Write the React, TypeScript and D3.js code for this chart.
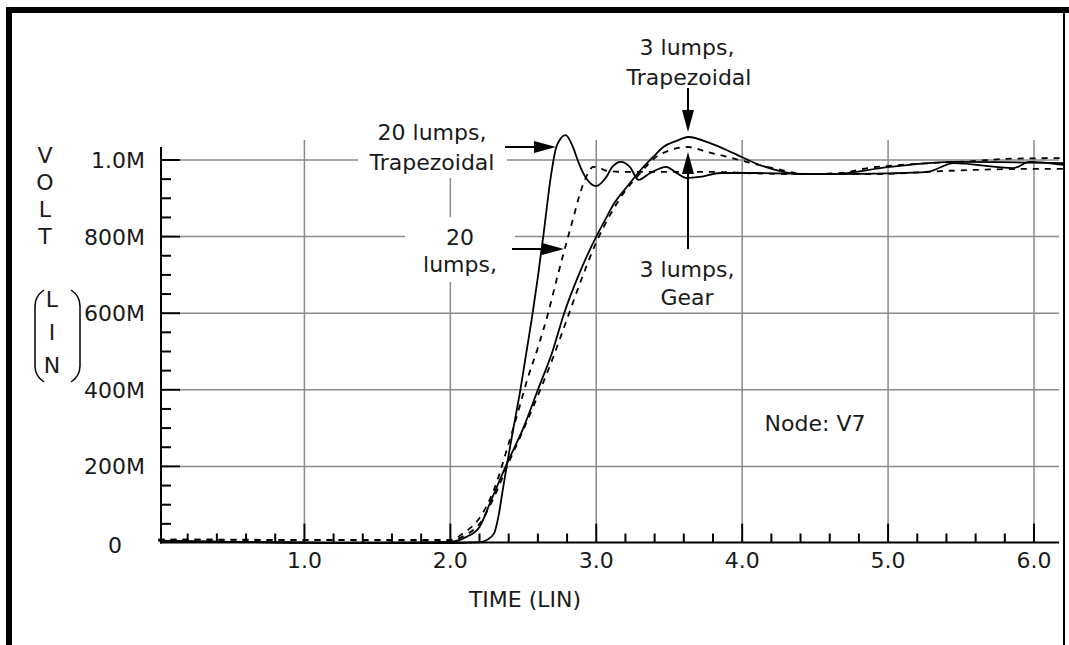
import React from 'react';
import * as d3 from 'd3';

// ---- data ----
const T_20_TRAP = [0, 0.5, 1.0, 1.5, 2.0, 2.2, 2.25, 2.3, 2.33, 2.36, 2.39, 2.43, 2.48, 2.52, 2.56, 2.6, 2.64, 2.69, 2.72, 2.76, 2.79, 2.84, 2.88, 2.93, 3.0, 3.07, 3.11, 3.17, 3.23, 3.29, 3.37, 3.48, 3.54, 3.62, 3.71, 3.85, 4.1, 4.6, 5.0, 5.27, 5.45, 5.86, 5.97, 6.2];
const V_20_TRAP = [0.006, 0.003, 0.001, 0.0, 0.0, 0.002, 0.008, 0.025, 0.07, 0.14, 0.209, 0.295, 0.40, 0.495, 0.59, 0.695, 0.81, 0.96, 1.025, 1.058, 1.065, 1.034, 0.992, 0.953, 0.932, 0.956, 0.982, 0.995, 0.982, 0.948, 0.966, 0.982, 0.969, 0.953, 0.956, 0.966, 0.966, 0.963, 0.965, 0.969, 0.992, 0.979, 0.995, 0.987];

const T_20_GEAR = [0, 1.0, 2.0, 2.09, 2.19, 2.3, 2.4, 2.47, 2.53, 2.6, 2.67, 2.73, 2.8, 2.84, 2.89, 2.93, 2.98, 3.03, 3.07, 3.2, 3.77, 4.1, 4.4, 4.9, 5.13, 5.36, 5.58, 6.04, 6.2];
const V_20_GEAR = [0.009, 0.008, 0.008, 0.026, 0.06, 0.14, 0.26, 0.35, 0.43, 0.51, 0.6, 0.69, 0.79, 0.845, 0.914, 0.955, 0.982, 0.978, 0.972, 0.969, 0.969, 0.965, 0.963, 0.963, 0.966, 0.971, 0.974, 0.977, 0.977];

const T_3_TRAP = [0, 0.5, 1.0, 1.5, 2.0, 2.11, 2.2, 2.28, 2.39, 2.5, 2.6, 2.7, 2.78, 2.88, 3.0, 3.06, 3.12, 3.21, 3.3, 3.39, 3.46, 3.55, 3.63, 3.78, 3.94, 4.12, 4.28, 4.4, 4.62, 5.01, 5.47, 6.2];
const V_3_TRAP = [0.006, 0.003, 0.001, 0.0, 0.003, 0.016, 0.042, 0.112, 0.209, 0.30, 0.40, 0.50, 0.60, 0.70, 0.80, 0.843, 0.885, 0.93, 0.972, 1.008, 1.034, 1.05, 1.06, 1.044, 1.018, 0.987, 0.969, 0.963, 0.963, 0.982, 0.995, 0.992];

const T_3_GEAR = [0, 1.0, 2.0, 2.1, 2.2, 2.3, 2.4, 2.5, 2.6, 2.7, 2.8, 2.9, 3.0, 3.1, 3.2, 3.3, 3.4, 3.5, 3.63, 3.76, 3.9, 4.03, 4.21, 4.44, 4.67, 4.86, 5.08, 5.3, 5.58, 5.81, 6.18];
const V_3_GEAR = [0.009, 0.008, 0.006, 0.02, 0.05, 0.12, 0.21, 0.295, 0.385, 0.48, 0.585, 0.69, 0.785, 0.86, 0.92, 0.965, 1.005, 1.025, 1.034, 1.021, 1.008, 0.995, 0.979, 0.963, 0.966, 0.979, 0.987, 0.992, 0.997, 1.003, 1.005];

const Y_MAJOR = [0, 0.2, 0.4, 0.6, 0.8, 1.0];
const Y_LABELS = ['0', '200M', '400M', '600M', '800M', '1.0M'];
const X_MAJOR = [1, 2, 3, 4, 5, 6];
const X_LABELS = ['1.0', '2.0', '3.0', '4.0', '5.0', '6.0'];

const FONT = '"DejaVu Sans", sans-serif';
const FS = 22;
const TXT = '#1a1a1a';

export default function App() {
  const x = d3.scaleLinear().domain([0, 6]).range([158.5, 1034]);
  const y = d3.scaleLinear().domain([0, 1]).range([543, 160]);
  const axisLeft = 161;
  const axisBottom = 542.5;
  const xEnd = 1059;
  const gridTop = 140;

  const line = d3
    .line<[number, number]>()
    .x((d) => x(d[0]))
    .y((d) => y(d[1]))
    .curve(d3.curveMonotoneX);
  const zip = (t: number[], v: number[]) => t.map((ti, i) => [ti, v[i]] as [number, number]);

  const yMinor = d3.range(1, 20).map((i) => i * 0.05).filter((v) => Math.abs(v * 5 - Math.round(v * 5)) > 1e-6);
  const xMinor = d3.range(1, 31).map((i) => i * 0.2).filter((v) => Math.abs(v - Math.round(v)) > 1e-6);

  const textProps = { fontFamily: FONT, fontSize: FS, fill: TXT } as const;

  const hArrow = (x1: number, x2: number, yy: number) => (
    <g>
      <line x1={x1} x2={x2 - 18} y1={yy} y2={yy} stroke="#000" strokeWidth={2} />
      <path d={`M${x2},${yy} L${x2 - 22},${yy - 6} L${x2 - 22},${yy + 6} Z`} fill="#000" />
    </g>
  );
  const vArrow = (xx: number, y1: number, y2: number) => {
    const dir = y2 > y1 ? 1 : -1;
    return (
      <g>
        <line x1={xx} x2={xx} y1={y1} y2={y2 - dir * 18} stroke="#000" strokeWidth={2} />
        <path d={`M${xx},${y2} L${xx - 6},${y2 - dir * 22} L${xx + 6},${y2 - dir * 22} Z`} fill="#000" />
      </g>
    );
  };

  return (
    <svg width={1069} height={645} style={{ position: 'absolute', left: 0, top: 0, background: '#fff' }}>
      <rect x={0} y={0} width={1069} height={645} fill="#fff" />
      {/* frame */}
      <path d="M9,645 V10 H1069" fill="none" stroke="#000" strokeWidth={6} />
      <line x1={1064} x2={1064} y1={10} y2={645} stroke="#000" strokeWidth={2} />

      {/* grid */}
      {Y_MAJOR.filter((v) => v > 0).map((v) => (
        <line key={'gy' + v} x1={axisLeft + 19} x2={xEnd} y1={y(v)} y2={y(v)} stroke="#8a8a8a" strokeWidth={1.5} />
      ))}
      {X_MAJOR.map((t) => (
        <line key={'gx' + t} x1={x(t)} x2={x(t)} y1={gridTop} y2={axisBottom - 19} stroke="#8a8a8a" strokeWidth={1.5} />
      ))}

      {/* label backgrounds */}
      <rect x={358} y={118} width={149} height={60} fill="#fff" />
      <rect x={405} y={217} width={110} height={65} fill="#fff" />

      {/* axes */}
      <line x1={axisLeft} x2={axisLeft} y1={147} y2={axisBottom + 1} stroke="#000" strokeWidth={2} />
      <line x1={axisLeft - 1} x2={xEnd} y1={axisBottom} y2={axisBottom} stroke="#000" strokeWidth={2.2} />
      {Y_MAJOR.filter((v) => v > 0).map((v) => (
        <line key={'ty' + v} x1={axisLeft} x2={axisLeft + 19} y1={y(v)} y2={y(v)} stroke="#000" strokeWidth={2} />
      ))}
      {yMinor.map((v) => (
        <line key={'my' + v} x1={axisLeft} x2={axisLeft + 10} y1={y(v)} y2={y(v)} stroke="#000" strokeWidth={2} />
      ))}
      {X_MAJOR.map((t) => (
        <line key={'tx' + t} x1={x(t)} x2={x(t)} y1={axisBottom} y2={axisBottom - 19} stroke="#000" strokeWidth={2} />
      ))}
      {xMinor.map((t) => (
        <line key={'mx' + t} x1={x(t)} x2={x(t)} y1={axisBottom} y2={axisBottom - 9} stroke="#000" strokeWidth={2} />
      ))}

      {/* tick labels */}
      {Y_MAJOR.map((v, i) =>
        v === 0 ? (
          <text key={'ly' + v} x={115} y={553} textAnchor="middle" {...textProps}>
            {Y_LABELS[i]}
          </text>
        ) : (
          <text key={'ly' + v} x={145} y={y(v) + 8} textAnchor="end" {...textProps}>
            {Y_LABELS[i]}
          </text>
        )
      )}
      {X_MAJOR.map((t, i) => (
        <text key={'lx' + t} x={x(t)} y={568} textAnchor="middle" {...textProps}>
          {X_LABELS[i]}
        </text>
      ))}
      <text x={525} y={607} textAnchor="middle" {...textProps}>
        TIME (LIN)
      </text>

      {/* y axis title */}
      {['V', 'O', 'L', 'T'].map((c, i) => (
        <text key={'yt' + i} x={45} y={163 + i * 27} textAnchor="middle" {...textProps}>
          {c}
        </text>
      ))}
      {['L', 'I', 'N'].map((c, i) => (
        <text key={'yl' + i} x={52} y={307 + i * 33} textAnchor="middle" {...textProps}>
          {c}
        </text>
      ))}
      <path d="M44,290 Q35,296 35,306 V366 Q35,376 44,382" fill="none" stroke="#000" strokeWidth={1.5} />
      <path d="M71,290 Q80,296 80,306 V366 Q80,376 71,382" fill="none" stroke="#000" strokeWidth={1.5} />

      {/* curves */}
      <path d={line(zip(T_20_TRAP, V_20_TRAP)) || ''} fill="none" stroke="#000" strokeWidth={1.8} />
      <path d={line(zip(T_3_TRAP, V_3_TRAP)) || ''} fill="none" stroke="#000" strokeWidth={1.8} />
      <path d={line(zip(T_20_GEAR, V_20_GEAR)) || ''} fill="none" stroke="#000" strokeWidth={1.8} strokeDasharray="6,6" />
      <path d={line(zip(T_3_GEAR, V_3_GEAR)) || ''} fill="none" stroke="#000" strokeWidth={1.8} strokeDasharray="6,6" />

      {/* annotations */}
      <text x={432} y={140} textAnchor="middle" {...textProps}>20 lumps,</text>
      <text x={432} y={170} textAnchor="middle" {...textProps}>Trapezoidal</text>
      {hArrow(505, 556, 147)}

      <text x={460} y={245} textAnchor="middle" {...textProps}>20</text>
      <text x={460} y={272} textAnchor="middle" {...textProps}>lumps,</text>
      {hArrow(512, 564, 249)}

      <text x={687} y={55} textAnchor="middle" {...textProps}>3 lumps,</text>
      <text x={689} y={85} textAnchor="middle" {...textProps}>Trapezoidal</text>
      {vArrow(688, 88, 132)}

      <text x={687} y={277} textAnchor="middle" {...textProps}>3 lumps,</text>
      <text x={687} y={305} textAnchor="middle" {...textProps}>Gear</text>
      {vArrow(688, 249, 152)}

      <text x={815} y={431} textAnchor="middle" {...textProps}>Node: V7</text>
    </svg>
  );
}
